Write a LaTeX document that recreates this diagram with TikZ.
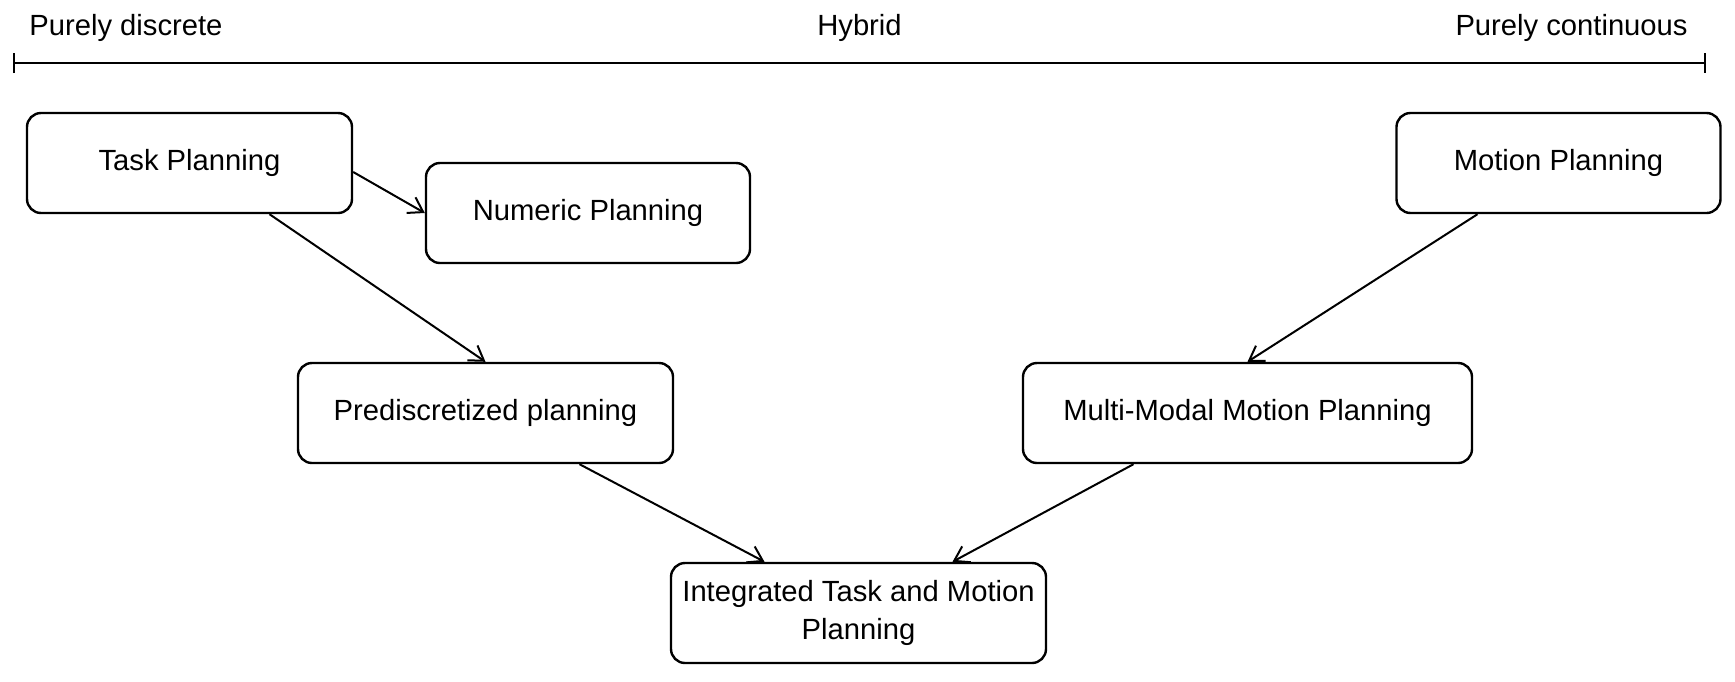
\documentclass[tikz,border=0pt]{standalone}
\usepackage{fontspec}
\setmainfont{Liberation Sans}
\usetikzlibrary{arrows.meta}
\tikzset{
  box/.style={draw, line width=1.2pt, rounded corners=7pt, align=center,
    minimum height=50pt, inner sep=2pt, font=\fontsize{14.6}{19}\selectfont},
  conn/.style={line width=1pt, -{Straight Barb[length=7pt,width=9pt,line width=1pt]}},
  lbl/.style={inner sep=0pt, font=\fontsize{14.6}{19}\selectfont},
  scale line/.style={line width=1pt, {Bar[width=10pt,line width=1pt]}-{Bar[width=10pt,line width=1pt]}}
}
\begin{document}
\begin{tikzpicture}[x=0.5pt,y=-0.5pt]
\useasboundingbox (0,0) rectangle (1735,681);
% scale
\coordinate (l) at (13,63);
\coordinate (r) at (1706,63);
\draw[scale line] (l) -- (r);
\node[lbl, anchor=base west] (pd) at (29,35) {Purely discrete};
\node[lbl, anchor=base] (hy) at (859.5,35) {Hybrid};
\node[lbl, anchor=base east] (pc) at (1688,35) {Purely continuous};
% boxes
\node[box, minimum width=162.5pt] (tp) at (189.5,163) {Task Planning};
\node[box, minimum width=162pt] (np) at (588,213) {Numeric Planning};
\node[box, minimum width=162pt] (mp) at (1558.5,163) {Motion Planning};
\node[box, minimum width=187.5pt] (pp) at (485.5,413) {Prediscretized planning};
\node[box, minimum width=224.5pt] (mm) at (1247.5,413) {Multi-Modal Motion Planning};
\node[box, minimum width=187.5pt, inner sep=1pt] (it) at (858.5,613) {Integrated Task and Motion\\Planning};
% connectors
\draw[conn] ([yshift=-4.5pt]tp.east) -- (np.west);
\draw[conn] ([xshift=40pt]tp.south) -- (pp.north);
\draw[conn] ([xshift=-40.5pt]mp.south) -- (mm.north);
\draw[conn] ([xshift=47pt]pp.south) -- ([xshift=-47pt]it.north);
\draw[conn] ([xshift=-57pt]mm.south) -- ([xshift=47pt]it.north);
\end{tikzpicture}
\end{document}
